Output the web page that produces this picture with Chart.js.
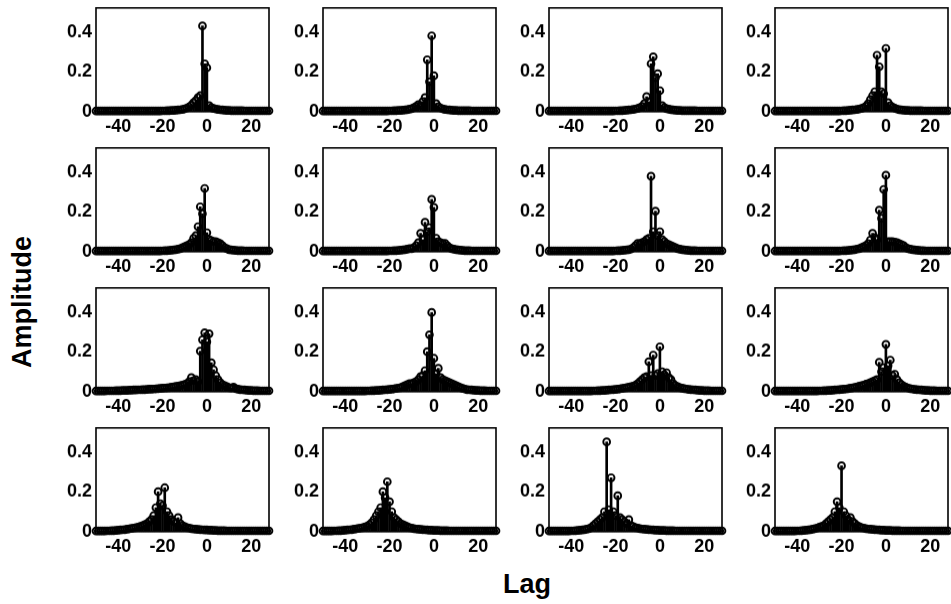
<!DOCTYPE html>
<html><head><meta charset="utf-8">
<script src="https://cdn.jsdelivr.net/npm/chart.js@4/dist/chart.umd.min.js"></script>
<style>
html,body{margin:0;padding:0;background:#fff;}
body{width:951px;height:604px;overflow:hidden;position:relative;font-family:'Liberation Sans',Arial,sans-serif;}
canvas.p{position:absolute;}
#ylab{position:absolute;left:22px;top:302px;transform:translate(-50%,-50%) rotate(-90deg);font-weight:bold;font-size:27px;color:#000;white-space:nowrap;}
#xlab{position:absolute;left:527px;top:584px;transform:translate(-50%,-50%);font-weight:bold;font-size:27px;color:#000;white-space:nowrap;}
</style></head>
<body>
<div id="ylab">Amplitude</div>
<div id="xlab">Lag</div>
<script>
// ---- data ----
const lags = [-50,-49,-48,-47,-46,-45,-44,-43,-42,-41,
-40,-39,-38,-37,-36,-35,-34,-33,-32,-31,
-30,-29,-28,-27,-26,-25,-24,-23,-22,-21,
-20,-19,-18,-17,-16,-15,-14,-13,-12,-11,
-10,-9,-8,-7,-6,-5,-4,-3,-2,-1,
0,1,2,3,4,5,6,7,8,9,10,
11,12,13,14,15,16,17,18,19,20,21,22,23,24,25,26,27,28];
const xTicks = [-40,-20,0,20];
const yTicks = [0,0.2,0.4];
const xLabel = 'Lag';
const yLabel = 'Amplitude';

const amp_r1c1 = [0.003,0.003,0.003,0.003,0.003,0.003,0.003,0.003,0.003,0.003,
0.003,0.003,0.003,0.003,0.003,0.003,0.003,0.003,0.003,0.003,
0.003,0.003,0.003,0.003,0.003,0.003,0.003,0.003,0.003,0.003,
0.004,0.004,0.005,0.005,0.006,0.006,0.007,0.008,0.009,0.011,
0.014,0.018,0.024,0.032,0.045,0.055,0.07,0.08,0.43,0.24,
0.22,0.03,0.02,0.016,0.013,0.011,0.009,0.008,0.007,0.006,0.006,
0.005,0.005,0.005,0.005,0.005,0.005,0.004,0.004,0.004,0.004,0.004,0.004,0.004,0.004,0.004,0.004,0.004,0.004];
const amp_r1c2 = [0.003,0.003,0.003,0.003,0.003,0.003,0.003,0.003,0.003,0.003,
0.003,0.003,0.003,0.003,0.003,0.003,0.003,0.003,0.003,0.003,
0.003,0.003,0.003,0.003,0.003,0.003,0.003,0.003,0.003,0.003,
0.004,0.004,0.005,0.005,0.006,0.006,0.007,0.008,0.01,0.012,
0.015,0.02,0.026,0.035,0.03,0.05,0.07,0.26,0.15,0.38,
0.18,0.04,0.025,0.018,0.014,0.011,0.009,0.008,0.007,0.006,0.006,
0.005,0.005,0.005,0.005,0.005,0.005,0.004,0.004,0.004,0.004,0.004,0.004,0.004,0.004,0.004,0.004,0.004,0.004];
const amp_r1c3 = [0.003,0.003,0.003,0.003,0.003,0.003,0.003,0.003,0.003,0.003,
0.003,0.003,0.003,0.003,0.003,0.003,0.003,0.003,0.003,0.003,
0.003,0.003,0.003,0.003,0.003,0.003,0.003,0.003,0.003,0.003,
0.004,0.004,0.005,0.005,0.006,0.007,0.008,0.009,0.011,0.013,
0.016,0.02,0.026,0.04,0.075,0.05,0.24,0.275,0.17,0.19,
0.105,0.03,0.02,0.015,0.012,0.01,0.008,0.007,0.006,0.006,0.005,
0.005,0.005,0.005,0.005,0.005,0.005,0.004,0.004,0.004,0.004,0.004,0.004,0.004,0.004,0.004,0.004,0.004,0.004];
const amp_r1c4 = [0.003,0.003,0.003,0.003,0.003,0.003,0.003,0.003,0.003,0.003,
0.003,0.003,0.003,0.003,0.003,0.003,0.003,0.003,0.003,0.003,
0.003,0.003,0.003,0.003,0.003,0.003,0.003,0.003,0.003,0.003,
0.004,0.005,0.005,0.006,0.007,0.008,0.009,0.011,0.013,0.016,
0.02,0.027,0.04,0.06,0.08,0.1,0.283,0.225,0.1,0.09,
0.317,0.045,0.03,0.022,0.017,0.013,0.01,0.008,0.007,0.006,0.006,
0.005,0.005,0.005,0.005,0.005,0.005,0.004,0.004,0.004,0.004,0.004,0.004,0.004,0.004,0.004,0.004,0.004,0.004];
const amp_r2c1 = [0.003,0.003,0.003,0.003,0.003,0.003,0.003,0.003,0.003,0.003,
0.003,0.003,0.003,0.003,0.003,0.003,0.003,0.003,0.003,0.003,
0.003,0.003,0.003,0.003,0.003,0.003,0.003,0.003,0.003,0.003,
0.004,0.005,0.005,0.006,0.007,0.008,0.01,0.012,0.015,0.02,
0.025,0.03,0.035,0.045,0.067,0.08,0.125,0.225,0.19,0.317,
0.095,0.06,0.055,0.05,0.05,0.045,0.04,0.03,0.02,0.015,0.01,
0.008,0.007,0.006,0.005,0.005,0.005,0.004,0.004,0.004,0.004,0.004,0.004,0.004,0.004,0.004,0.004,0.004,0.004];
const amp_r2c2 = [0.003,0.003,0.003,0.003,0.003,0.003,0.003,0.003,0.003,0.003,
0.003,0.003,0.003,0.003,0.003,0.003,0.003,0.003,0.003,0.003,
0.003,0.003,0.003,0.003,0.003,0.003,0.003,0.003,0.003,0.003,
0.004,0.004,0.005,0.005,0.006,0.007,0.008,0.01,0.012,0.015,
0.015,0.02,0.03,0.045,0.092,0.06,0.147,0.1,0.12,0.262,
0.222,0.067,0.05,0.045,0.04,0.042,0.03,0.02,0.015,0.012,0.01,
0.008,0.007,0.006,0.005,0.005,0.005,0.004,0.004,0.004,0.004,0.004,0.004,0.004,0.004,0.004,0.004,0.004,0.004];
const amp_r2c3 = [0.003,0.003,0.003,0.003,0.003,0.003,0.003,0.003,0.003,0.003,
0.003,0.003,0.003,0.003,0.003,0.003,0.003,0.003,0.003,0.003,
0.003,0.003,0.003,0.003,0.003,0.003,0.003,0.003,0.003,0.003,
0.004,0.005,0.005,0.006,0.007,0.008,0.01,0.013,0.02,0.03,
0.042,0.04,0.045,0.05,0.06,0.067,0.378,0.1,0.203,0.08,
0.1,0.06,0.05,0.04,0.035,0.03,0.025,0.02,0.015,0.012,0.01,
0.008,0.007,0.006,0.005,0.005,0.005,0.004,0.004,0.004,0.004,0.004,0.004,0.004,0.004,0.004,0.004,0.004,0.004];
const amp_r2c4 = [0.003,0.003,0.003,0.003,0.003,0.003,0.003,0.003,0.003,0.003,
0.003,0.003,0.003,0.003,0.003,0.003,0.003,0.003,0.003,0.003,
0.003,0.003,0.003,0.003,0.003,0.003,0.003,0.003,0.003,0.003,
0.004,0.005,0.005,0.006,0.007,0.008,0.01,0.013,0.015,0.02,
0.025,0.03,0.04,0.058,0.092,0.07,0.06,0.208,0.167,0.312,
0.383,0.05,0.05,0.05,0.048,0.045,0.04,0.035,0.03,0.02,0.015,
0.012,0.01,0.008,0.007,0.006,0.005,0.005,0.004,0.004,0.004,0.004,0.004,0.004,0.004,0.004,0.004,0.004,0.004];
const amp_r3c1 = [0.003,0.003,0.003,0.003,0.003,0.004,0.004,0.004,0.004,0.005,
0.005,0.005,0.006,0.006,0.006,0.007,0.007,0.008,0.008,0.009,
0.009,0.01,0.01,0.011,0.012,0.012,0.013,0.014,0.015,0.016,
0.017,0.018,0.019,0.02,0.022,0.024,0.026,0.028,0.03,0.033,
0.036,0.04,0.05,0.07,0.055,0.06,0.05,0.203,0.26,0.295,
0.25,0.29,0.145,0.11,0.08,0.06,0.045,0.035,0.03,0.025,0.02,
0.018,0.022,0.015,0.012,0.01,0.009,0.008,0.007,0.006,0.006,0.005,0.005,0.005,0.004,0.004,0.004,0.004,0.004];
const amp_r3c2 = [0.003,0.003,0.003,0.003,0.003,0.003,0.003,0.003,0.003,0.003,
0.003,0.003,0.003,0.003,0.003,0.003,0.003,0.003,0.003,0.003,
0.004,0.004,0.005,0.005,0.006,0.006,0.007,0.008,0.009,0.01,
0.011,0.012,0.014,0.016,0.018,0.02,0.025,0.03,0.035,0.04,
0.04,0.045,0.05,0.06,0.075,0.08,0.105,0.2,0.285,0.397,
0.167,0.09,0.117,0.07,0.06,0.055,0.05,0.045,0.04,0.035,0.03,
0.025,0.02,0.016,0.013,0.01,0.009,0.008,0.007,0.006,0.006,0.005,0.005,0.005,0.004,0.004,0.004,0.004,0.004];
const amp_r3c3 = [0.003,0.003,0.003,0.003,0.003,0.003,0.003,0.003,0.003,0.003,
0.003,0.003,0.003,0.003,0.003,0.003,0.003,0.003,0.003,0.003,
0.004,0.004,0.005,0.005,0.006,0.006,0.007,0.008,0.009,0.01,
0.011,0.012,0.014,0.016,0.018,0.02,0.022,0.025,0.028,0.032,
0.04,0.05,0.06,0.07,0.075,0.15,0.08,0.183,0.08,0.09,
0.225,0.1,0.085,0.095,0.07,0.06,0.04,0.03,0.025,0.02,0.017,
0.015,0.013,0.011,0.01,0.009,0.008,0.007,0.006,0.006,0.005,0.005,0.005,0.004,0.004,0.004,0.004,0.004,0.004];
const amp_r3c4 = [0.003,0.003,0.003,0.003,0.003,0.003,0.003,0.003,0.003,0.003,
0.003,0.003,0.003,0.003,0.003,0.003,0.003,0.003,0.003,0.003,
0.004,0.004,0.005,0.005,0.006,0.006,0.007,0.008,0.009,0.01,
0.011,0.012,0.013,0.015,0.017,0.019,0.021,0.024,0.027,0.03,
0.033,0.037,0.04,0.045,0.05,0.055,0.06,0.147,0.1,0.12,
0.237,0.13,0.158,0.08,0.087,0.06,0.045,0.035,0.028,0.022,0.018,
0.015,0.013,0.011,0.01,0.009,0.008,0.007,0.006,0.006,0.005,0.005,0.005,0.004,0.004,0.004,0.004,0.004,0.004];
const amp_r4c1 = [0.003,0.003,0.003,0.003,0.003,0.004,0.004,0.005,0.005,0.006,
0.007,0.008,0.009,0.01,0.012,0.014,0.016,0.018,0.02,0.023,
0.026,0.03,0.035,0.04,0.05,0.06,0.08,0.12,0.2,0.14,
0.13,0.22,0.1,0.08,0.06,0.05,0.045,0.07,0.04,0.03,
0.025,0.02,0.018,0.015,0.013,0.012,0.011,0.01,0.009,0.008,
0.008,0.007,0.007,0.006,0.006,0.005,0.005,0.005,0.005,0.004,0.004,
0.004,0.004,0.004,0.004,0.004,0.004,0.004,0.004,0.004,0.004,0.004,0.004,0.004,0.004,0.004,0.004,0.004,0.004];
const amp_r4c2 = [0.003,0.003,0.003,0.003,0.003,0.004,0.004,0.005,0.005,0.006,
0.007,0.008,0.009,0.01,0.012,0.014,0.016,0.018,0.02,0.024,
0.028,0.035,0.045,0.06,0.08,0.1,0.12,0.2,0.17,0.25,
0.15,0.1,0.07,0.06,0.05,0.04,0.035,0.03,0.025,0.02,
0.018,0.015,0.013,0.012,0.011,0.01,0.009,0.008,0.007,0.007,
0.006,0.006,0.006,0.005,0.005,0.005,0.005,0.004,0.004,0.004,0.004,
0.004,0.004,0.004,0.004,0.004,0.004,0.004,0.004,0.004,0.004,0.004,0.004,0.004,0.004,0.004,0.004,0.004,0.004];
const amp_r4c3 = [0.003,0.003,0.003,0.003,0.003,0.003,0.003,0.003,0.003,0.003,
0.004,0.004,0.005,0.006,0.007,0.008,0.01,0.012,0.015,0.02,
0.03,0.04,0.05,0.06,0.07,0.1,0.45,0.11,0.27,0.1,
0.08,0.18,0.07,0.06,0.05,0.04,0.06,0.03,0.025,0.02,
0.018,0.015,0.013,0.012,0.011,0.01,0.009,0.008,0.007,0.007,
0.006,0.006,0.006,0.005,0.005,0.005,0.005,0.004,0.004,0.004,0.004,
0.004,0.004,0.004,0.004,0.004,0.004,0.004,0.004,0.004,0.004,0.004,0.004,0.004,0.004,0.004,0.004,0.004,0.004];
const amp_r4c4 = [0.003,0.003,0.003,0.003,0.003,0.003,0.003,0.003,0.003,0.003,
0.004,0.004,0.005,0.006,0.007,0.008,0.01,0.012,0.015,0.018,
0.022,0.026,0.03,0.04,0.05,0.06,0.07,0.1,0.15,0.12,
0.33,0.1,0.08,0.06,0.07,0.05,0.04,0.03,0.025,0.02,
0.018,0.015,0.013,0.012,0.011,0.01,0.009,0.008,0.007,0.007,
0.006,0.006,0.006,0.005,0.005,0.005,0.005,0.004,0.004,0.004,0.004,
0.004,0.004,0.004,0.004,0.004,0.004,0.004,0.004,0.004,0.004,0.004,0.004,0.004,0.004,0.004,0.004,0.004,0.004];

const panelSeries = [
  amp_r1c1, amp_r1c2, amp_r1c3, amp_r1c4,
  amp_r2c1, amp_r2c2, amp_r2c3, amp_r2c4,
  amp_r3c1, amp_r3c2, amp_r3c3, amp_r3c4,
  amp_r4c1, amp_r4c2, amp_r4c3, amp_r4c4
];

// ---- layout ----
const colLeft = [96, 323, 549, 775];
const rowTop = [8, 148, 288, 428];
const boxW = 173, boxH = 103;
const YW = 50, XH = 32, PT = 4, PR = 8;
const X_MIN = -50, X_MAX = 28, Y_MIN = 0, Y_MAX = 0.52;

const boxPlugin = {
  id: 'box',
  afterDatasetsDraw(chart) {
    const a = chart.chartArea, c = chart.ctx;
    c.save();
    c.strokeStyle = '#000';
    c.lineWidth = 1.6;
    c.strokeRect(a.left, a.top, a.right - a.left, a.bottom - a.top);
    c.restore();
  }
};

const tickFont = {family: "'Liberation Sans', Arial, sans-serif", size: 18, weight: 'bold'};

panelSeries.forEach((amp, i) => {
  const r = Math.floor(i / 4), col = i % 4;
  const cv = document.createElement('canvas');
  cv.className = 'p';
  let w = YW + boxW + PR, h = PT + boxH + XH;
  cv.style.width = w + 'px'; cv.style.height = h + 'px';
  cv.width = w; cv.height = h;
  cv.style.left = '0px'; cv.style.top = '0px';
  document.body.appendChild(cv);
  const pts = lags.map((x, k) => ({x: x, y: amp[k]}));
  const chart = new Chart(cv, {
    type: 'bar',
    data: {
      datasets: [
        {type: 'scatter', data: pts, showLine: false, pointRadius: 3.4, pointBorderWidth: 1.9,
         pointBorderColor: '#000', pointBackgroundColor: 'rgba(0,0,0,0)', clip: false, order: 0},
        {type: 'bar', data: pts, backgroundColor: '#000', barThickness: 2, grouped: false, clip: false, order: 1}
      ]
    },
    options: {
      responsive: false, maintainAspectRatio: false, animation: false, devicePixelRatio: 1,
      layout: {padding: {top: PT, right: PR, left: 0, bottom: 0}},
      plugins: {legend: {display: false}, tooltip: {enabled: false}},
      scales: {
        x: {
          type: 'linear', min: X_MIN, max: X_MAX, offset: false,
          grid: {display: false, drawTicks: false}, border: {display: false},
          afterBuildTicks: s => { s.ticks = xTicks.map(v => ({value: v})); },
          afterFit: s => { s.height = XH; },
          ticks: {color: '#000', font: tickFont, padding: 4, maxRotation: 0, autoSkip: false,
                  callback: v => String(v)}
        },
        y: {
          type: 'linear', min: Y_MIN, max: Y_MAX,
          grid: {display: false, drawTicks: false}, border: {display: false},
          afterBuildTicks: s => { s.ticks = yTicks.map(v => ({value: v})); },
          afterFit: s => { s.width = YW; },
          ticks: {color: '#000', font: tickFont, padding: 4, autoSkip: false,
                  callback: v => String(v)}
        }
      }
    },
    plugins: [boxPlugin]
  });
  // fit the plot box to the target size, then place it
  let a = chart.chartArea;
  const dw = boxW - (a.right - a.left), dh = boxH - (a.bottom - a.top);
  if (Math.abs(dw) > 0.01 || Math.abs(dh) > 0.01) {
    w += dw; h += dh;
    chart.resize(w, h);
    a = chart.chartArea;
  }
  cv.style.left = (colLeft[col] - a.left) + 'px';
  cv.style.top = (rowTop[r] - a.top) + 'px';
});
</script>
</body></html>
